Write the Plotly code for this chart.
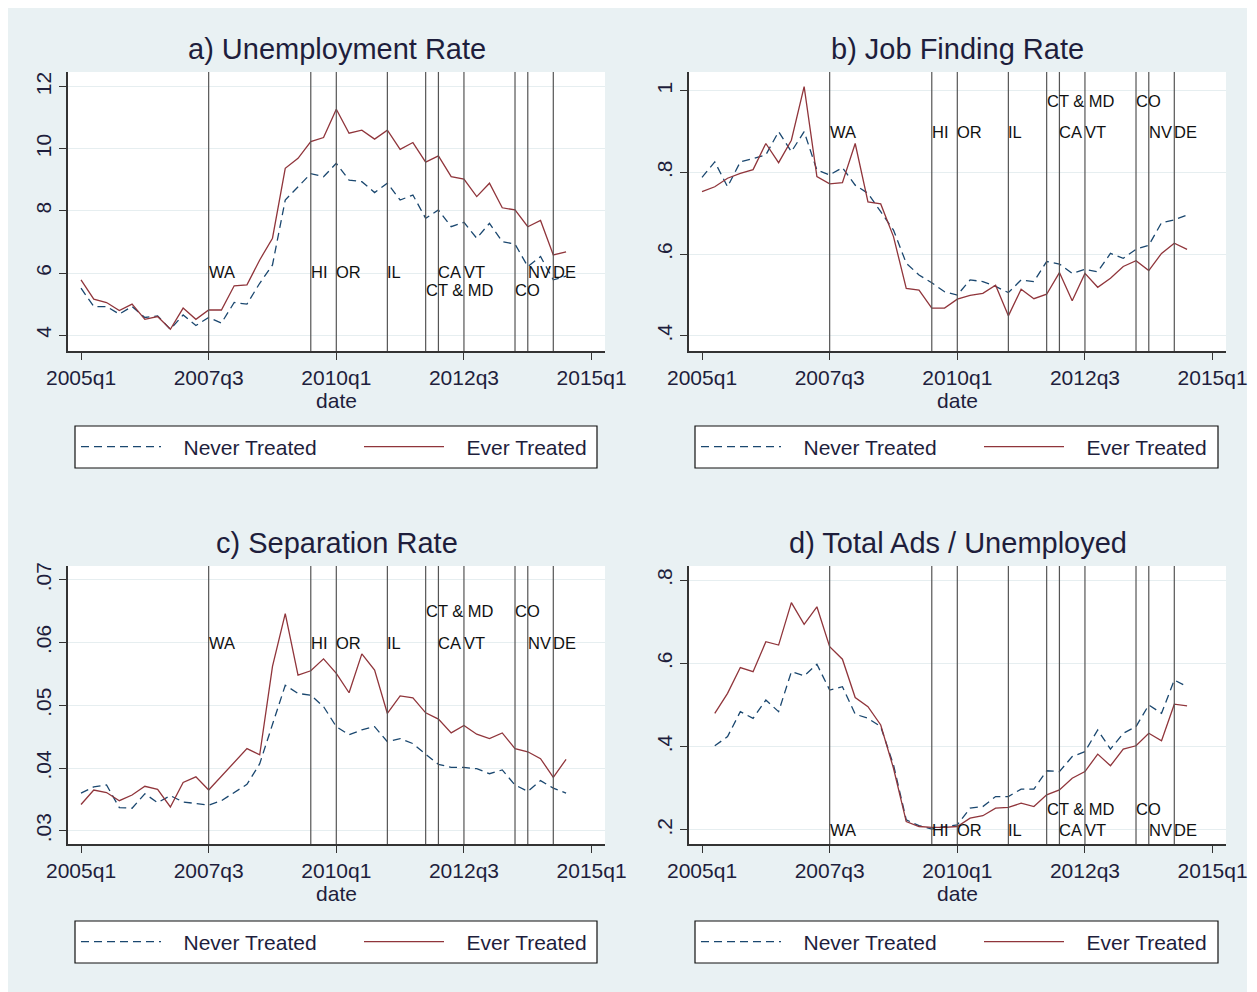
import plotly.graph_objects as go

# ---------------- data ----------------
quarters = list(range(180, 219))  # 2005q1 .. 2014q3 (Stata %tq numbering)
tick_vals = [180, 190, 200, 210, 220]
tick_text = ["2005q1", "2007q3", "2010q1", "2012q3", "2015q1"]

unemp_never = [5.51, 4.92, 4.92, 4.68, 4.92, 4.57, 4.62, 4.19, 4.65, 4.31, 4.57, 4.39, 5.05, 5.00,
               5.67, 6.26, 8.35, 8.78, 9.20, 9.10, 9.53, 8.99, 8.94, 8.59, 8.89, 8.35, 8.51, 7.76,
               8.03, 7.49, 7.63, 7.12, 7.60, 7.01, 6.93, 6.21, 6.53, 5.78, 5.90]
unemp_ever = [5.78, 5.16, 5.05, 4.79, 5.00, 4.51, 4.60, 4.19, 4.87, 4.51, 4.81, 4.81, 5.59, 5.62,
              6.42, 7.12, 9.37, 9.69, 10.23, 10.36, 11.27, 10.50, 10.60, 10.31, 10.60, 9.98, 10.20,
              9.57, 9.77, 9.10, 9.02, 8.46, 8.89, 8.10, 8.03, 7.49, 7.69, 6.58, 6.68]

jobfind_never = [0.788, 0.826, 0.765, 0.826, 0.834, 0.843, 0.900, 0.851, 0.900, 0.806, 0.794, 0.812,
                 0.769, 0.749, 0.704, 0.659, 0.578, 0.549, 0.530, 0.508, 0.500, 0.537, 0.533, 0.521,
                 0.506, 0.537, 0.533, 0.582, 0.576, 0.553, 0.563, 0.557, 0.602, 0.590, 0.612, 0.622,
                 0.677, 0.684, 0.696]
jobfind_ever = [0.753, 0.765, 0.786, 0.798, 0.807, 0.871, 0.824, 0.879, 1.010, 0.790, 0.772, 0.775,
                0.871, 0.728, 0.723, 0.643, 0.516, 0.512, 0.468, 0.468, 0.490, 0.499, 0.504, 0.524,
                0.449, 0.514, 0.491, 0.502, 0.555, 0.486, 0.553, 0.519, 0.541, 0.570, 0.584, 0.560,
                0.602, 0.627, 0.612]

sep_never = [0.0360, 0.0370, 0.0373, 0.0337, 0.0336, 0.0359, 0.0345, 0.0356, 0.0346, 0.0343, 0.0341,
             0.0348, 0.0361, 0.0374, 0.0407, 0.0471, 0.0532, 0.0519, 0.0516, 0.0498, 0.0466, 0.0453,
             0.0461, 0.0466, 0.0442, 0.0447, 0.0439, 0.0422, 0.0406, 0.0401, 0.0401, 0.0399, 0.0391,
             0.0397, 0.0373, 0.0363, 0.0380, 0.0368, 0.0360]
sep_ever = [0.0342, 0.0365, 0.0361, 0.0348, 0.0357, 0.0371, 0.0366, 0.0338, 0.0377, 0.0386, 0.0365,
            0.0387, 0.0410, 0.0431, 0.0421, 0.0562, 0.0646, 0.0548, 0.0555, 0.0574, 0.0551, 0.0520,
            0.0582, 0.0556, 0.0487, 0.0515, 0.0512, 0.0488, 0.0478, 0.0456, 0.0468, 0.0454, 0.0447,
            0.0456, 0.0431, 0.0426, 0.0415, 0.0385, 0.0414]

ads_never = [None, 0.402, 0.424, 0.484, 0.468, 0.512, 0.484, 0.580, 0.570, 0.598, 0.536, 0.544, 0.478,
             0.468, 0.448, 0.356, 0.224, 0.210, 0.202, 0.208, 0.212, 0.252, 0.256, 0.280, 0.280,
             0.298, 0.298, 0.342, 0.340, 0.376, 0.388, 0.440, 0.394, 0.432, 0.448, 0.500, 0.480,
             0.560, 0.544]
ads_ever = [None, 0.480, 0.528, 0.590, 0.580, 0.652, 0.644, 0.746, 0.694, 0.736, 0.640, 0.610, 0.518,
            0.496, 0.452, 0.348, 0.220, 0.208, 0.206, 0.206, 0.208, 0.228, 0.234, 0.252, 0.254,
            0.264, 0.256, 0.284, 0.296, 0.324, 0.340, 0.382, 0.354, 0.394, 0.402, 0.432, 0.414,
            0.502, 0.498]

# treatment dates (quarter numbers) and state labels
treat_dates = [190, 198, 200, 204, 207, 208, 210, 214, 215, 217]
treat_labels = ["WA", "HI", "OR", "IL", "CT & MD", "CA", "VT", "CO", "NV", "DE"]
upper_row = [False, False, False, False, True, False, False, True, False, False]

panel_titles = ["a) Unemployment Rate", "b) Job Finding Rate", "c) Separation Rate",
                "d) Total Ads / Unemployed"]
y_ticks = [[4, 6, 8, 10, 12], [0.4, 0.6, 0.8, 1.0], [0.03, 0.04, 0.05, 0.06, 0.07], [0.2, 0.4, 0.6, 0.8]]
y_ticktext = [["4", "6", "8", "10", "12"], [".4", ".6", ".8", "1"],
              [".03", ".04", ".05", ".06", ".07"], [".2", ".4", ".6", ".8"]]
y_ranges = [[3.49, 12.47], [0.363, 1.046], [0.0279, 0.0722], [0.166, 0.834]]
# label y-levels: (main row, alternate row) per panel
label_levels = [(6.04, 5.45), (0.9, 0.975), (0.06, 0.065), (0.2, 0.25)]
series = [(unemp_never, unemp_ever), (jobfind_never, jobfind_ever),
          (sep_never, sep_ever), (ads_never, ads_ever)]
legend_names = ["Never Treated", "Ever Treated"]

# ---------------- style ----------------
OFF = 8                 # page body margin in the browser
W, H = 1257 - OFF, 992 - OFF
BG = "#E9F1F3"
NAVY = "#1a476f"
MAROON = "#90353b"
TXT = "#1e1e3c"
FONT = "Liberation Sans, Arial, sans-serif"
PAD = "\u00a0\u00a0\u00a0"


def fx(px):
    return (px - OFF) / W


def fy(py):
    return (H - (py - OFF)) / H


# panel pixel boxes in page coordinates: (left, right, top, bottom)
boxes = [(68, 605, 72, 351), (689, 1226, 72, 351), (68, 605, 566, 844), (689, 1226, 566, 844)]
title_y = [49, 49, 543, 543]
# legend boxes: (left, right, top, bottom)
leg_boxes = [(75, 597, 426, 468), (695, 1218, 426, 468), (75, 597, 921, 963), (695, 1218, 921, 963)]

fig = go.Figure()
layout = dict(
    width=W, height=H, margin=dict(l=0, r=0, t=0, b=0, autoexpand=False),
    paper_bgcolor=BG, plot_bgcolor="white",
    font=dict(family=FONT, color=TXT, size=22),
    shapes=[], annotations=[],
)

# white strip at the right edge of the page (outside the graph region)
layout["shapes"].append(dict(type="rect", xref="paper", yref="paper",
                             x0=fx(1247), x1=1, y0=0, y1=1,
                             fillcolor="white", line=dict(width=0), layer="below"))

for k in range(4):
    l, r, t, b = boxes[k]
    xa = "xaxis" if k == 0 else f"xaxis{k+1}"
    ya = "yaxis" if k == 0 else f"yaxis{k+1}"
    xr = "x" if k == 0 else f"x{k+1}"
    yr = "y" if k == 0 else f"y{k+1}"
    lg = "legend" if k == 0 else f"legend{k+1}"
    never, ever = series[k]

    fig.add_trace(go.Scatter(x=quarters, y=never, mode="lines", name=PAD + legend_names[0],
                             line=dict(color=NAVY, width=1.3, dash="8px,5px"),
                             xaxis=xr, yaxis=yr, legend=lg))
    fig.add_trace(go.Scatter(x=quarters, y=ever, mode="lines", name=PAD + legend_names[1],
                             line=dict(color=MAROON, width=1.3),
                             xaxis=xr, yaxis=yr, legend=lg))

    layout[xa] = dict(
        domain=[fx(l), fx(r)], anchor=yr, range=[178.98, 221.05],
        tickvals=tick_vals, ticktext=tick_text, ticks="outside", ticklen=7,
        tickcolor="#333", showline=True, linecolor="#333", linewidth=1.5,
        showgrid=False, zeroline=False, tickfont=dict(size=21, color=TXT, family=FONT),
        ticklabeloverflow="allow",
        title=dict(text="date", font=dict(size=21, color=TXT, family=FONT), standoff=0),
    )
    layout[ya] = dict(
        domain=[fy(b), fy(t)], anchor=xr, range=y_ranges[k],
        tickvals=y_ticks[k], ticktext=y_ticktext[k], ticks="outside", ticklen=7,
        tickcolor="#333", showline=True, linecolor="#333", linewidth=1.5,
        showgrid=True, gridcolor="#E6EEF0", gridwidth=1, zeroline=False,
        tickangle=-90, tickfont=dict(size=21, color=TXT, family=FONT),
        ticklabeloverflow="allow",
    )

    for d in treat_dates:
        layout["shapes"].append(dict(type="line", xref=xr, yref=f"{yr} domain",
                                     x0=d, x1=d, y0=0, y1=1,
                                     line=dict(color="#555555", width=1.2), layer="above"))
    main_y, alt_y = label_levels[k]
    for d, lab, up in zip(treat_dates, treat_labels, upper_row):
        layout["annotations"].append(dict(
            x=d, y=alt_y if up else main_y, xref=xr, yref=yr, text=lab, showarrow=False,
            xanchor="left", yanchor="middle", xshift=-2,
            font=dict(size=16.5, color="#111", family=FONT)))

    layout["annotations"].append(dict(
        x=(fx(l) + fx(r)) / 2, y=fy(title_y[k]), xref="paper", yref="paper",
        text=panel_titles[k], showarrow=False, xanchor="center", yanchor="middle",
        font=dict(size=29, color=TXT, family=FONT)))

    bl, br, bt, bb = leg_boxes[k]
    layout["shapes"].append(dict(type="rect", xref="paper", yref="paper",
                                 x0=fx(bl), x1=fx(br), y0=fy(bb), y1=fy(bt),
                                 fillcolor="white", line=dict(color="#111", width=1.2),
                                 layer="below"))
    layout[lg] = dict(
        x=fx(bl + 1), y=fy((bt + bb) / 2), xanchor="left", yanchor="middle",
        orientation="h", bgcolor="rgba(0,0,0,0)", borderwidth=0,
        font=dict(size=21, color=TXT, family=FONT), entrywidth=188, entrywidthmode="pixels",
        itemwidth=80, tracegroupgap=0,
    )

fig.update_layout(**layout)
fig.write_html("out.html")
